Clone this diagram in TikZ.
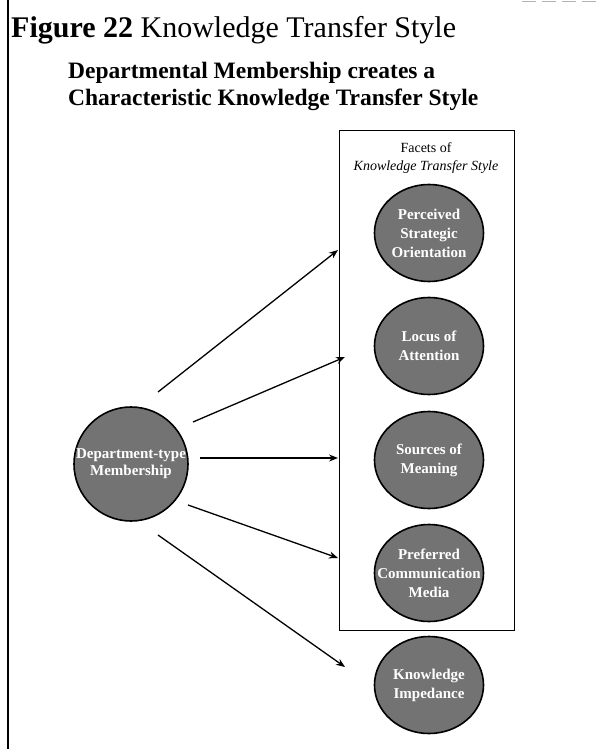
\documentclass[tikz,border=0pt]{standalone}
\usepackage{fontspec}
\setmainfont{Liberation Serif}
\usetikzlibrary{arrows.meta}
\begin{document}
\begin{tikzpicture}[x=1pt,y=-1pt,
  disc/.style={line width=1.6pt,fill=black!55},
  disctext/.style={text=white,inner sep=0,align=center,font=\fontsize{15}{19}\selectfont\bfseries},
  arr/.style={line width=1.3pt,-{Stealth[length=9pt,width=7pt]}},
  subline/.style={anchor=base west,inner sep=0,font=\fontsize{23.5}{27}\selectfont\bfseries},
]
\useasboundingbox (0,0) rectangle (601,749);
% left rule and scan mark
\draw[line width=2.5pt] (8,0) -- (8,749);
\draw[gray!60,line width=1pt,dash pattern=on 14pt off 6pt] (522,1.5) -- (601,1.5);
% titles
\node[anchor=base west,inner sep=0,font=\fontsize{30}{34}\selectfont] (title) at (11,38) {\textbf{Figure 22} Knowledge Transfer Style};
\node[subline] (sub1) at (68,79) {Departmental Membership creates a};
\node[subline] (sub2) at (68,106) {Characteristic Knowledge Transfer Style};
% facets box
\draw[line width=1pt] (339,131) rectangle (514,630);
\node[inner sep=0,align=center,font=\fontsize{14}{18}\selectfont] (facets) at (426,158) {Facets of\\\textit{Knowledge Transfer Style}};
% facet discs
\foreach \n/\y/\t in {c1/233/{Perceived\\Strategic\\Orientation},
                      c2/346/{Locus of\\Attention},
                      c3/460/{Sources of\\Meaning},
                      c4/573/{Preferred\\Communication\\Media},
                      c5/685/{Knowledge\\Impedance}}{
  \filldraw[disc] (429,\y) ellipse [x radius=54.5, y radius=48.5];
  \node[disctext] (\n) at (429,\y) {\t};
}
% department disc
\filldraw[disc] (131,464) circle [radius=57];
\node[disctext,font=\fontsize{15}{17}\selectfont\bfseries] (dep) at (131,464) {Department-type\\Membership};
% arrow ends
\coordinate (s1) at (158,392); \coordinate (e1) at (338,250);
\coordinate (s2) at (193,422); \coordinate (e2) at (345,357);
\coordinate (s3) at (200,458); \coordinate (e3) at (338,458);
\coordinate (s4) at (188,505); \coordinate (e4) at (338,558);
\coordinate (s5) at (158,535); \coordinate (e5) at (345,667);
\foreach \i in {1,...,5}{\draw[arr] (s\i) -- (e\i);}
\end{tikzpicture}
\end{document}
